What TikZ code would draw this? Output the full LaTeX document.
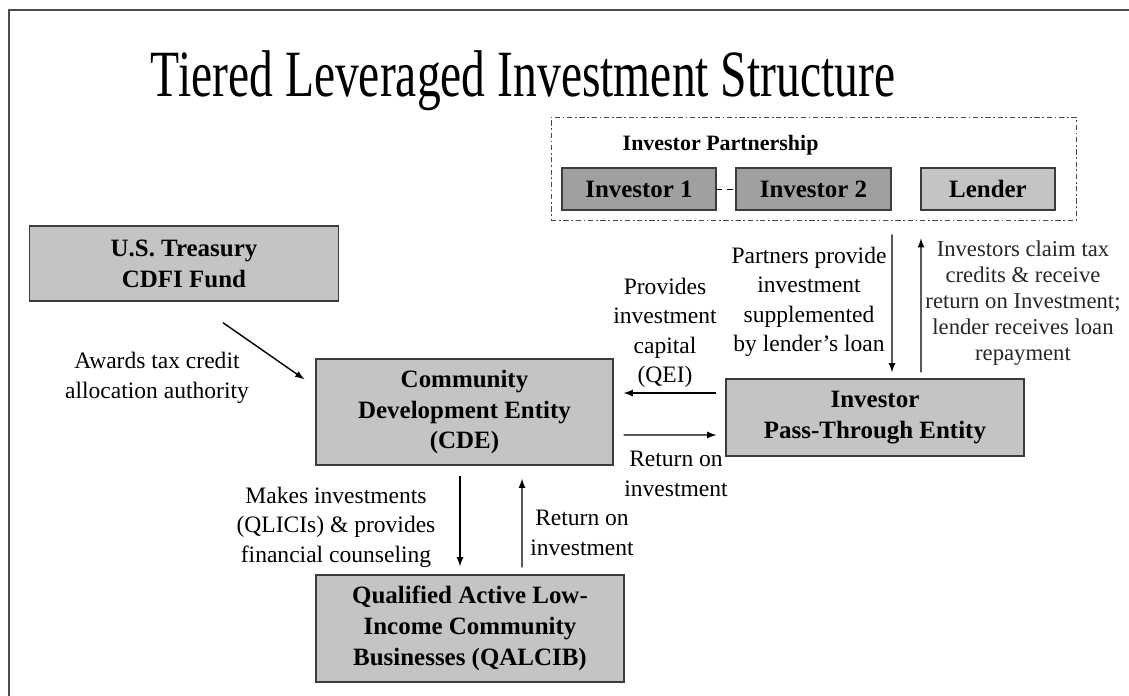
\documentclass[tikz,border=0pt]{standalone}
\usepackage{fontspec}
\setmainfont{Liberation Serif}
\usetikzlibrary{calc}

\definecolor{boxgray}{HTML}{C4C4C4}
\definecolor{invgray}{HTML}{A0A0A0}
\definecolor{edgegray}{HTML}{3C3C3C}

\tikzset{
  entity/.style={draw=edgegray, fill=boxgray, line width=0.8pt, inner sep=0pt,
    align=center, font=\fontsize{14.2}{17.6}\selectfont\bfseries},
  partner/.style={entity, minimum height=0.84cm},
  note/.style={align=center, inner sep=0pt, font=\fontsize{13.4}{16.8}\selectfont},
}

\begin{document}
\begin{tikzpicture}[x=0.02cm, y=-0.02cm, >=latex, thick]
      \useasboundingbox (0,0) rectangle (1129,696);
      \draw [line width=1.2pt, black!70] (9,696) -- (9,10) -- (1129,10);
      \node (title) [anchor=base west, inner sep=0pt, font=\fontsize{37.6}{40}\selectfont]
        at (150,96) {\scalebox{0.72}[1]{Tiered Leveraged Investment Structure}};
      % investor partnership
      \node (partnership) [draw=black!70, thin, dash pattern=on 3pt off 1.5pt on 1pt off 1.5pt,
        minimum width=10.5cm, minimum height=2.06cm] at (813.5,168.5) {};
      \node (ptitle) [anchor=west, inner sep=0pt, font=\fontsize{12.5}{15}\selectfont\bfseries]
        at (622,145) {Investor Partnership};
      \node (inv1) [partner, fill=invgray, minimum width=3.08cm] at (639,189) {Investor 1};
      \node (inv2) [partner, fill=invgray, minimum width=3.1cm] at (813.5,189) {Investor 2};
      \node (lender) [partner, minimum width=2.68cm] at (988,189) {Lender};
      \draw [thin, dashed] (inv1) -- (inv2);
      % entities
      \node (treasury) [entity, minimum width=6.18cm, minimum height=1.5cm] at (184,263.5)
        {U.S. Treasury\\CDFI Fund};
      \node (cde) [entity, minimum width=5.94cm, minimum height=2.12cm] at (464.5,412)
        {Community\\Development Entity\\(CDE)};
      \node (ipte) [entity, minimum width=5.96cm, minimum height=1.54cm] at (875,417.5)
        {Investor\\Pass-Through Entity};
      \node (qalcib) [entity, minimum width=6.16cm, minimum height=2.14cm] at (470,628.5)
        {Qualified Active Low-\\Income Community\\Businesses (QALCIB)};
      % labels
      \node (awards) [note] at (157,378) {Awards tax credit\\allocation authority};
      \node (qei) [note] at (665,333) {Provides\\investment\\capital\\(QEI)};
      \node (provide) [note] at (809,302) {Partners provide\\investment\\supplemented\\by lender's loan};
      \node (claim) [note, font=\fontsize{12.9}{14.8}\selectfont, text=black!85] at (1023,303)
        {Investors claim tax\\credits \& receive\\return on Investment;\\lender receives loan\\repayment};
      \node (ret1) [note] at (676,474) {Return on\\investment};
      \node (makes) [note] at (336,527) {Makes investments\\(QLICIs) \& provides\\financial counseling};
      \node (ret2) [note] at (582,533) {Return on\\investment};
      % arrows
      \draw [->] ($(treasury.south)+(39,21)$) -- ($(cde.north west)+(-11,21)$);
      \draw [->] ($(ipte.west)+(-9,-24.5)$) -- ($(cde.east)+(10,-19)$);
      \draw [->] ($(cde.east)+(10,23)$) -- ($(ipte.west)+(-9,17.5)$);
      \draw [->] ($(partnership.south)+(78.5,14)$) -- ($(ipte.north)+(17,-6)$);
      \draw [->] ($(ipte.north)+(46,-6)$) -- ($(partnership.south)+(107.5,18)$);
      \draw [->] ($(cde.south)+(-4.5,10)$) -- ($(qalcib.north)+(-10,-8)$);
      \draw [->] ($(qalcib.north)+(52,-7)$) -- ($(cde.south)+(57.5,13)$);
    \end{tikzpicture}
\end{document}
